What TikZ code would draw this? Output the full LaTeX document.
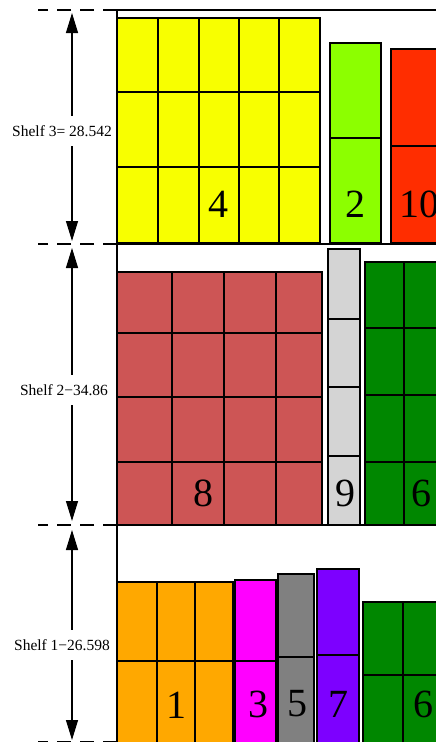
\documentclass[tikz,border=0pt]{standalone}
\usepackage{fontspec}
\setmainfont{Liberation Serif}
\usetikzlibrary{arrows.meta}

\definecolor{crateyellow}{RGB}{248,255,0}
\definecolor{cratelime}{RGB}{140,255,0}
\definecolor{cratered}{RGB}{255,45,0}
\definecolor{crateindian}{RGB}{205,85,85}
\definecolor{crategray}{RGB}{212,212,212}
\definecolor{crategreen}{RGB}{0,135,0}
\definecolor{crateorange}{RGB}{255,168,0}
\definecolor{cratemagenta}{RGB}{255,0,255}
\definecolor{cratedark}{RGB}{128,128,128}
\definecolor{crateviolet}{RGB}{125,0,255}

\begin{document}
\begin{tikzpicture}[
    x=1pt, y=-1pt,
    crate/.style={draw=black, line width=2pt},
    part/.style={draw=black, line width=1.6pt},
    floor/.style={line width=2.4pt, line cap=rect},
    guide/.style={line width=1.6pt, dash pattern=on 14pt off 9pt},
    dim/.style={{Triangle[length=20pt,width=12pt]}-{Triangle[length=20pt,width=12pt]}, line width=1.2pt},
    dimlabel/.style={fill=white, font=\fontsize{15.5}{17}\selectfont, inner xsep=1pt, inner ysep=9pt},
    tag/.style={font=\fontsize{40}{42}\selectfont, inner sep=0pt},
  ]

  \clip (0,0) rectangle (436,742);

  % Shelf 3
  \draw[crate, fill=crateyellow] (117,18) rectangle (320,243);
  \foreach \c in {158,199,239,279} \draw[part] (\c,18) -- (\c,243);
  \foreach \r in {92,167} \draw[part] (117,\r) -- (320,\r);
  \draw[crate, fill=cratelime] (330,43) rectangle (381,243);
  \draw[part] (330,138) -- (381,138);
  \draw[crate, fill=cratered] (391,49) rectangle (480,243);
  \draw[part] (391,146) -- (480,146);
  \node[tag] (box4)  at (218,204) {4};
  \node[tag] (box2)  at (355,204) {2};
  \node[tag] (box10) at (419,204) {10};

  % Shelf 2
  \draw[crate, fill=crateindian] (117,272) rectangle (322,525);
  \foreach \c in {172,224,276} \draw[part] (\c,272) -- (\c,525);
  \foreach \r in {333,397,462} \draw[part] (117,\r) -- (322,\r);
  \draw[crate, fill=crategray] (328,249) rectangle (360,525);
  \foreach \r in {319,387,456} \draw[part] (328,\r) -- (360,\r);
  \draw[crate, fill=crategreen] (365,262) rectangle (480,525);
  \draw[part] (404,262) -- (404,525);
  \foreach \r in {328,395,462} \draw[part] (365,\r) -- (480,\r);
  \node[tag] (box8)  at (203,493) {8};
  \node[tag] (box9)  at (345,493) {9};
  \node[tag] (box6a) at (421,493) {6};

  % Shelf 1
  \draw[crate, fill=crateorange] (117,582) rectangle (233,745);
  \foreach \c in {157,195} \draw[part] (\c,582) -- (\c,745);
  \draw[part] (117,661) -- (233,661);
  \draw[crate, fill=cratemagenta] (235,580) rectangle (276,745);
  \draw[part] (235,661) -- (276,661);
  \draw[crate, fill=cratedark] (278,574) rectangle (314,745);
  \draw[part] (278,657) -- (314,657);
  \draw[crate, fill=crateviolet] (317,569) rectangle (359,745);
  \draw[part] (317,655) -- (359,655);
  \draw[crate, fill=crategreen] (363,602) rectangle (480,745);
  \draw[part] (403,602) -- (403,745);
  \draw[part] (363,675) -- (480,675);
  \node[tag] (box1)  at (176,705) {1};
  \node[tag] (box3)  at (258,704) {3};
  \node[tag] (box5)  at (297,704) {5};
  \node[tag] (box7)  at (338,704) {7};
  \node[tag] (box6b) at (423,704) {6};

  % Shelf floors
  \coordinate (wall3) at (117,10);
  \coordinate (wall2) at (117,244);
  \coordinate (wall1) at (117,525);
  \coordinate (wall0) at (117,742);
  \draw[floor] (wall3) -- (436,10);
  \draw[floor] (wall2) -- (436,244);
  \draw[floor] (wall1) -- (436,525);
  \draw[floor] (wall3) -- (wall0);
  \foreach \w in {wall3,wall2,wall1,wall0} \draw[guide] (\w) -- ++(-79,0);

  % Shelf heights
  \coordinate (s3top) at (72,13);
  \coordinate (s3bot) at (72,241);
  \coordinate (s2top) at (72,248);
  \coordinate (s2bot) at (72,521);
  \coordinate (s1top) at (72,530);
  \coordinate (s1bot) at (72,740);
  \draw[dim] (s3top) -- (s3bot);
  \draw[dim] (s2top) -- (s2bot);
  \draw[dim] (s1top) -- (s1bot);
  \node[dimlabel] (shelf3) at (62,131) {Shelf 3= 28.542};
  \node[dimlabel] (shelf2) at (64,390) {Shelf 2−34.86};
  \node[dimlabel] (shelf1) at (62,645) {Shelf 1−26.598};

\end{tikzpicture}
\end{document}
